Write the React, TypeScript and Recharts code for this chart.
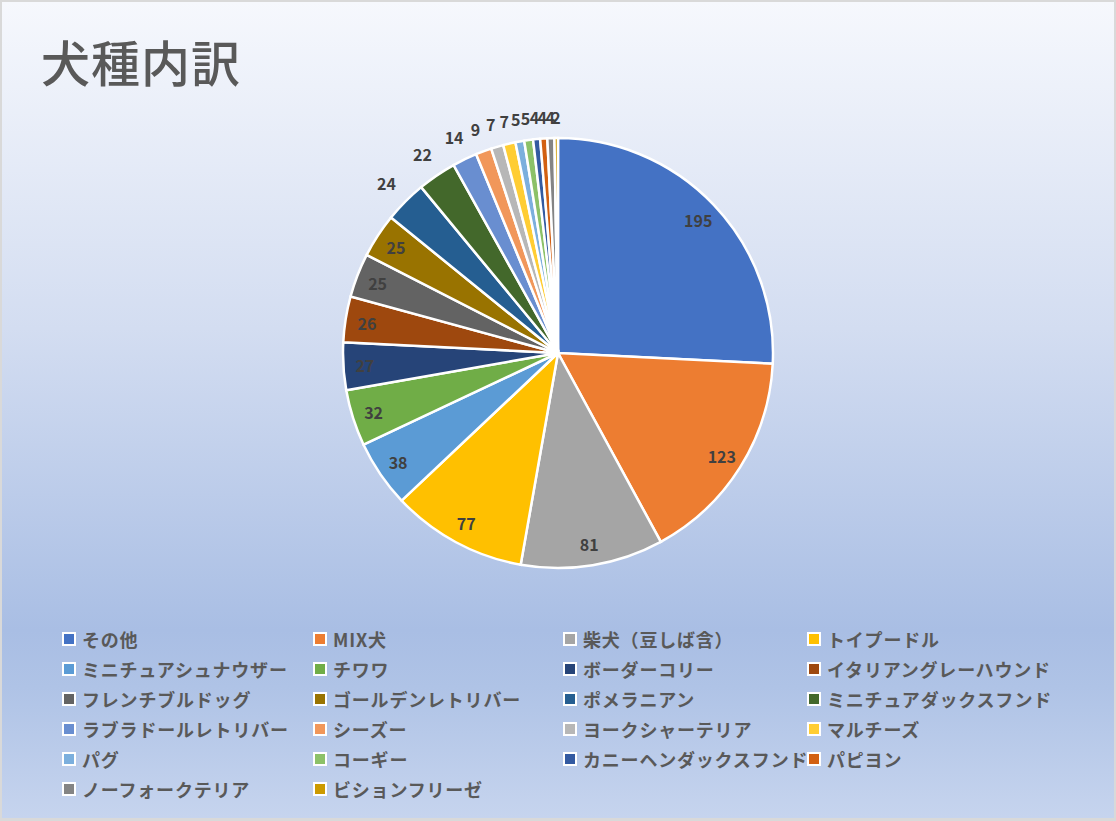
import React from "react";
import { PieChart, Pie, Cell, Legend } from "recharts";

const BREEDS = [
  "その他",
  "MIX犬",
  "柴犬（豆しば含）",
  "トイプードル",
  "ミニチュアシュナウザー",
  "チワワ",
  "ボーダーコリー",
  "イタリアングレーハウンド",
  "フレンチブルドッグ",
  "ゴールデンレトリバー",
  "ポメラニアン",
  "ミニチュアダックスフンド",
  "ラブラドールレトリバー",
  "シーズー",
  "ヨークシャーテリア",
  "マルチーズ",
  "パグ",
  "コーギー",
  "カニーヘンダックスフンド",
  "パピヨン",
  "ノーフォークテリア",
  "ビションフリーゼ",
];

const COUNTS = [195, 123, 81, 77, 38, 32, 27, 26, 25, 25, 24, 22, 14, 9, 7, 7, 5, 5, 4, 4, 4, 2];

const COLORS = [
  "#4472C4", "#ED7D31", "#A5A5A5", "#FFC000", "#5B9BD5", "#70AD47",
  "#264478", "#9E480E", "#636363", "#997300", "#255E91", "#43682B",
  "#698ED0", "#F1975A", "#B7B7B7", "#FFCD33", "#7CAFDD", "#8CC168",
  "#335AA1", "#D26012", "#848484", "#CC9A00",
];

const TITLE = "犬種内訳";

const data = BREEDS.map((name, i) => ({ name, value: COUNTS[i] }));

const W = 1116;
const H = 821;
const CX = 558;
const CY = 353;
const R = 215;

const RAD = Math.PI / 180;
const JP = "'Noto Sans CJK JP', 'Noto Sans', sans-serif";

const renderLabel = (props: any) => {
  const { cx, cy, midAngle, value, outerRadius } = props;
  const a = -midAngle * RAD;
  const cos = Math.cos(a);
  const sin = Math.sin(a);
  let r: number;
  if (value >= 25) {
    r = outerRadius * 0.9;
  } else {
    r = outerRadius + 21 + 8 * Math.abs(cos);
  }
  const x = cx + r * cos;
  const y = cy + r * sin;
  return (
    <text
      x={x}
      y={y}
      textAnchor="middle"
      dominantBaseline="central"
      fill="#404040"
      fontSize={16}
      fontWeight={700}
      fontFamily={JP}
    >
      {value}
    </text>
  );
};

const COL_LEFT = [62, 313, 563, 807];
const ROW_TOP = 631;
const ROW_H = 30;

const renderLegend = (props: any) => {
  const payload: any[] = props.payload || [];
  const items = BREEDS.map((name, i) => {
    const p = payload.find((e) => e && e.value === name);
    return { name, color: (p && p.color) || COLORS[i] };
  });
  return (
    <div style={{ position: "relative", width: W, height: 200 }}>
      {items.map((it, i) => {
        const col = i % 4;
        const row = Math.floor(i / 4);
        return (
          <div
            key={it.name}
            style={{
              position: "absolute",
              left: COL_LEFT[col],
              top: row * ROW_H,
              height: 16,
              display: "flex",
              alignItems: "center",
              whiteSpace: "nowrap",
            }}
          >
            <div
              style={{
                width: 10,
                height: 10,
                background: COLORS[i],
                border: "2.5px solid #ffffff",
                boxSizing: "content-box",
                flex: "none",
              }}
            />
            <span
              style={{
                marginLeft: 6,
                fontFamily: JP,
                fontSize: 18,
                fontWeight: 700,
                letterSpacing: "0.8px",
                color: "#595959",
                lineHeight: "16px",
              }}
            >
              {it.name}
            </span>
          </div>
        );
      })}
    </div>
  );
};

export default function App() {
  return (
    <div
      style={{
        position: "absolute",
        left: 0,
        top: 0,
        width: W,
        height: H,
        boxSizing: "border-box",
        border: "2px solid #D9D9D9",
        borderBottomWidth: 3,
        background:
          "linear-gradient(to bottom, #F6F8FD 0%, #D3DDF1 40%, #A9BEE4 77%, #AFC3E6 84%, #C6D4EE 100%)",
        overflow: "hidden",
      }}
    >
      <div
        style={{
          position: "absolute",
          left: 39,
          top: 33,
          fontFamily: JP,
          fontSize: 49,
          fontWeight: 500,
          letterSpacing: "1px",
          lineHeight: "52px",
          color: "#595959",
          whiteSpace: "nowrap",
        }}
      >
        {TITLE}
      </div>
      <div style={{ position: "absolute", left: -2, top: -2 }}>
        <PieChart width={W} height={H} margin={{ top: 0, right: 0, bottom: 0, left: 0 }}>
          <Pie
            data={data}
            dataKey="value"
            nameKey="name"
            cx={CX}
            cy={CY}
            outerRadius={R}
            startAngle={90}
            endAngle={-270}
            stroke="#ffffff"
            strokeWidth={2.5}
            label={renderLabel}
            labelLine={false}
            isAnimationActive={false}
          >
            {data.map((d, i) => (
              <Cell key={d.name} fill={COLORS[i]} />
            ))}
          </Pie>
          <Legend
            content={renderLegend}
            wrapperStyle={{ position: "absolute", left: 0, top: ROW_TOP, width: W, height: 200 }}
          />
        </PieChart>
      </div>
    </div>
  );
}
